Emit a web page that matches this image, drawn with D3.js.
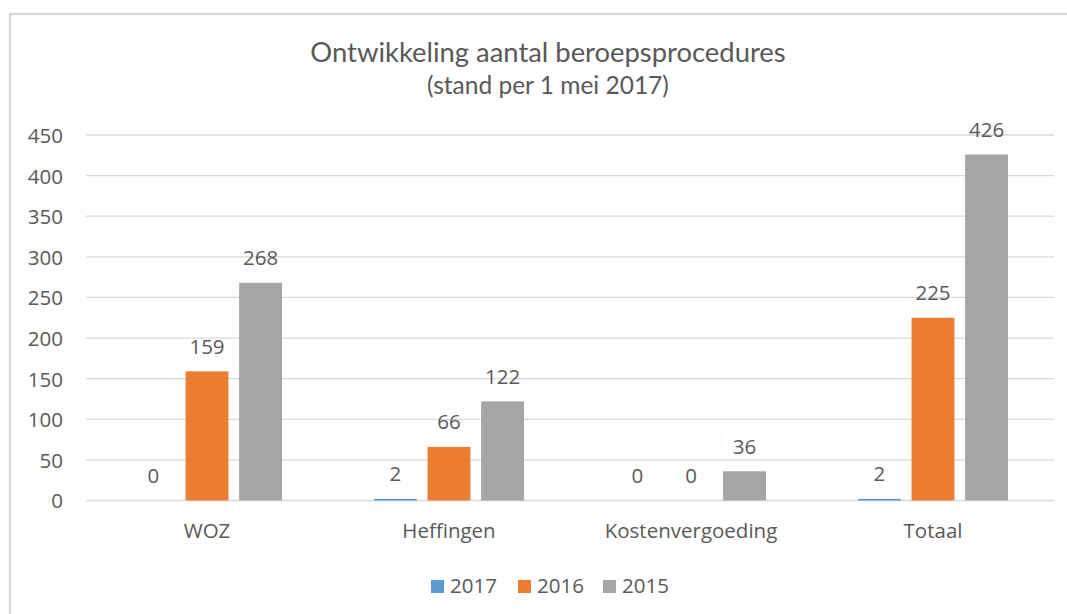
<!DOCTYPE html>
<html>
<head>
<meta charset="utf-8">
<script src="https://cdn.jsdelivr.net/npm/d3@7"></script>
<style>
  html, body { margin: 0; padding: 0; background: #fff; }
  svg { display: block; }
</style>
</head>
<body>
<svg id="chart" width="1067" height="614"></svg>
<script>
const categories = ["WOZ", "Heffingen", "Kostenvergoeding", "Totaal"];
const seriesNames = ["2017", "2016", "2015"];
const values2017 = [0, 2, 0, 2];
const values2016 = [159, 66, 0, 225];
const values2015 = [268, 122, 36, 426];
const yTicks = [0, 50, 100, 150, 200, 250, 300, 350, 400, 450];
const colors = ["#5B9BD5", "#ED7D31", "#A5A5A5"];

const seriesValues = [values2017, values2016, values2015];
const data = categories.map((c, i) => ({
  category: c,
  values: seriesNames.map((s, j) => ({ series: s, value: seriesValues[j][i], color: colors[j] }))
}));

const svg = d3.select("#chart");
const textColor = "#595959";
const font = "'Open Sans', 'DejaVu Sans', sans-serif";

// frame
svg.append("rect")
  .attr("x", 10).attr("y", 14).attr("width", 1070).attr("height", 620)
  .attr("fill", "#fff").attr("stroke", "#D9D9D9").attr("stroke-width", 2.5);

const y = d3.scaleLinear().domain([0, 450]).range([500.5, 135]);
const x0 = d3.scaleBand().domain(categories).range([86, 1054]).padding(0);
const x1 = d3.scaleBand().domain(seriesNames).range([46, 196]).paddingInner(0.2).paddingOuter(0);

// gridlines
const yAxis = d3.axisLeft(y).tickValues(yTicks).tickSize(0).tickPadding(0);
const grid = svg.append("g");
grid.selectAll("line").data(yTicks).join("line")
  .attr("x1", 86).attr("x2", 1054)
  .attr("y1", d => y(d)).attr("y2", d => y(d))
  .attr("stroke", "#D9D9D9").attr("stroke-width", 1.3);

const ax = svg.append("g").attr("transform", "translate(63,0)").call(yAxis);
ax.select(".domain").remove();
ax.selectAll("text")
  .attr("fill", textColor).attr("font-family", font).attr("font-size", 20.5)
  .attr("dy", "0.36em");

// bars
const groups = svg.append("g").selectAll("g").data(data).join("g")
  .attr("transform", d => `translate(${x0(d.category)},0)`);

groups.selectAll("rect").data(d => d.values).join("rect")
  .attr("x", d => x1(d.series))
  .attr("width", x1.bandwidth())
  .attr("y", d => y(d.value))
  .attr("height", d => y(0) - y(d.value))
  .attr("fill", d => d.color);

groups.selectAll("text.val").data(d => d.values).join("text")
  .attr("class", "val")
  .attr("x", d => x1(d.series) + x1.bandwidth() / 2)
  .attr("y", d => y(d.value) - 17.5)
  .attr("text-anchor", "middle")
  .attr("fill", textColor).attr("font-family", font).attr("font-size", 20.5)
  .text(d => d.value);

// category labels
const xAxis = d3.axisBottom(x0).tickSize(0).tickPadding(0);
const xa = svg.append("g").attr("transform", "translate(0,538)").call(xAxis);
xa.select(".domain").remove();
xa.selectAll("text")
  .attr("fill", textColor).attr("font-family", font).attr("font-size", 20.5)
  .attr("dy", 0);

// title
svg.append("text")
  .attr("x", 548).attr("y", 62).attr("text-anchor", "middle")
  .attr("fill", textColor).attr("font-family", "Lato, 'Open Sans', sans-serif").attr("font-size", 27.4)
  .text("Ontwikkeling aantal beroepsprocedures");
svg.append("text")
  .attr("x", 548).attr("y", 94).attr("text-anchor", "middle")
  .attr("fill", textColor).attr("font-family", "Lato, 'Open Sans', sans-serif").attr("font-size", 24.5)
  .text("(stand per 1 mei 2017)");

// legend
const legendX = [431, 518, 603];
const legend = svg.append("g").selectAll("g").data(seriesNames).join("g")
  .attr("transform", (d, i) => `translate(${legendX[i]},0)`);
legend.append("rect")
  .attr("x", 0).attr("y", 580).attr("width", 13).attr("height", 13)
  .attr("fill", (d, i) => colors[i]);
legend.append("text")
  .attr("x", 19).attr("y", 593)
  .attr("fill", textColor).attr("font-family", font).attr("font-size", 20.5)
  .text(d => d);
</script>
</body>
</html>
